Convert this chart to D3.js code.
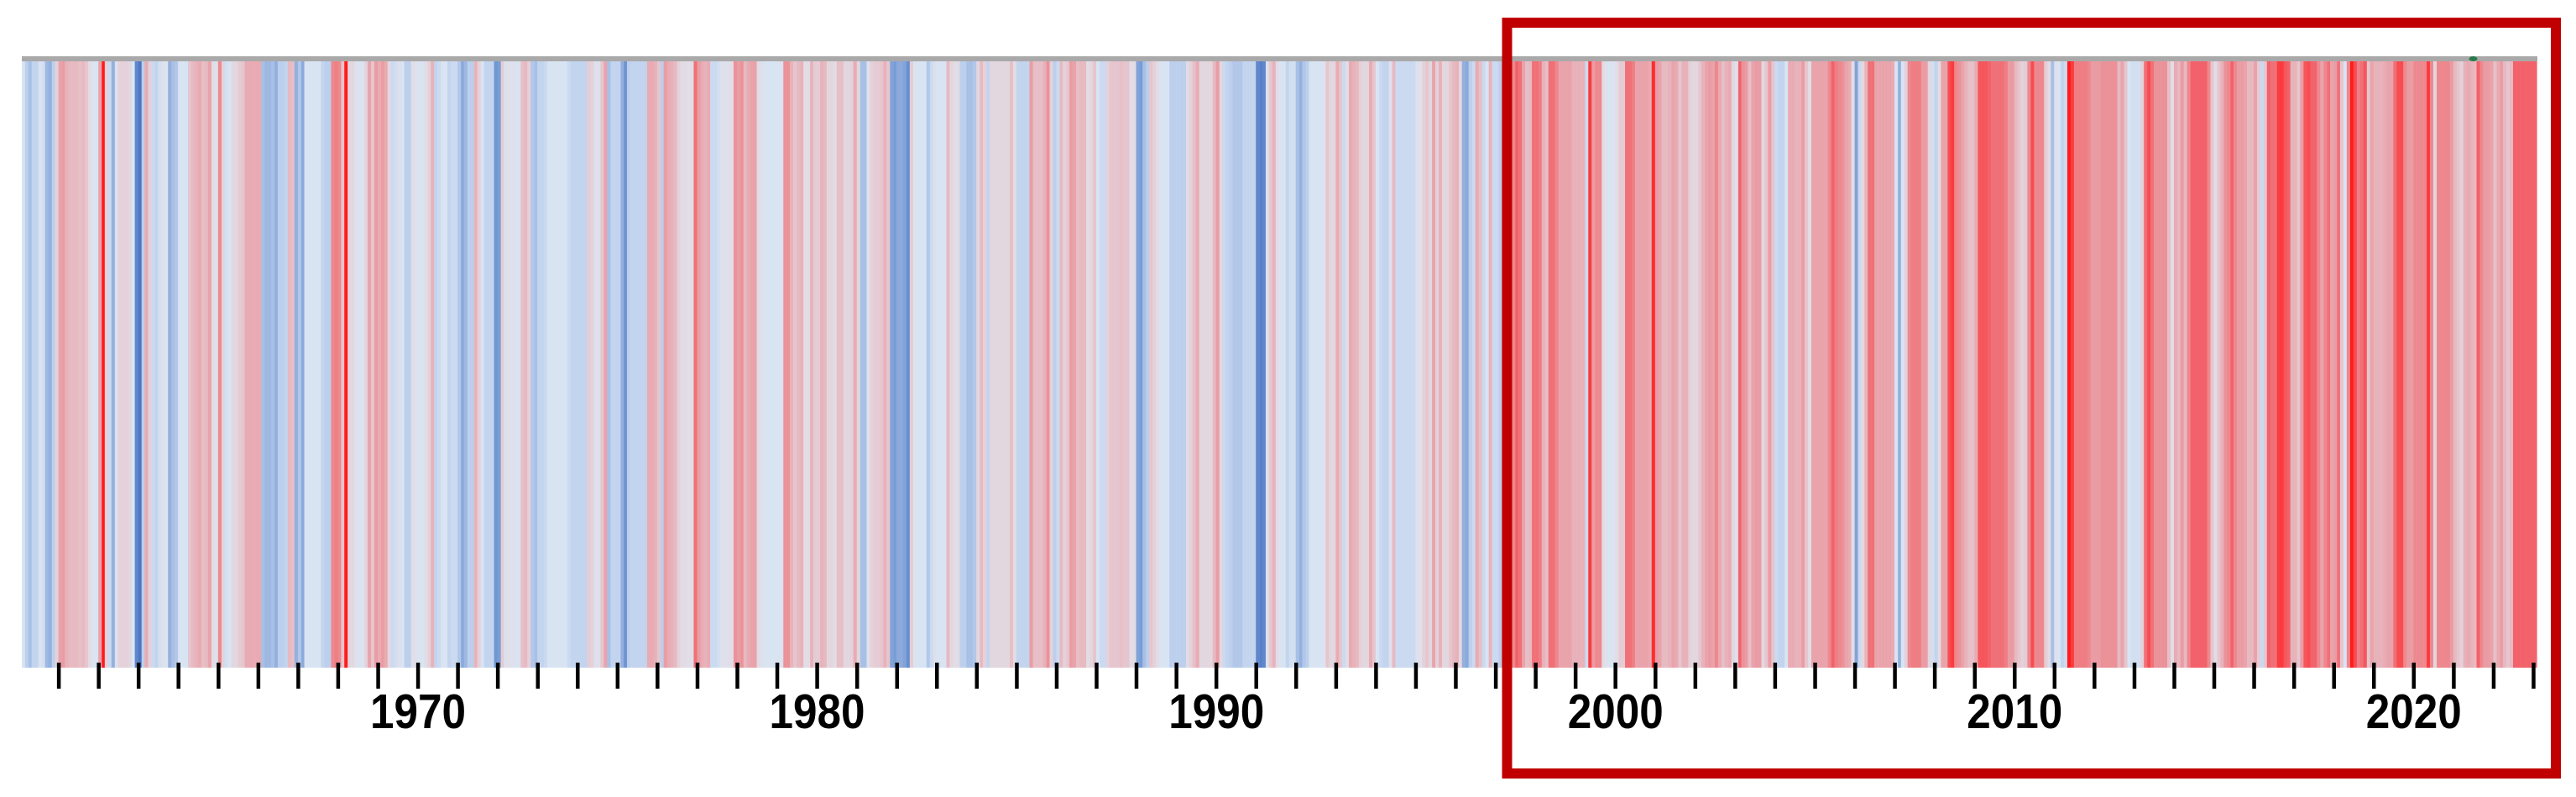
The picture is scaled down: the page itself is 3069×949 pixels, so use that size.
<!DOCTYPE html>
<html><head><meta charset="utf-8">
<script src="https://cdn.jsdelivr.net/npm/d3@7"></script>
<style>html,body{margin:0;padding:0;background:#fff;} svg{display:block}</style>
</head><body>
<svg id="chart" width="3069" height="949"></svg>
<script>
// Monthly anomaly index (relative, -1 = coldest, +1 = warmest), Feb 1960 .. Jan 2023
const firstMonth = new Date(1960, 1, 1);
const months1960to1970 = [-0.2,-0.4,-0.5,-0.35,-0.35,-0.15,-0.25,-0.55,-0.6,-0.4,
 0.1,0.45,0.5,0.35,0.3,0.3,0.3,0.25,0.3,0.2,
 0.0,-0.15,-0.2,0.45,1.0,0.1,-0.3,-0.6,-0.1,0.1,
 0.1,0.1,0.05,-0.2,-0.9,-1.0,-0.4,0.4,0.1,-0.3,
 -0.35,-0.25,-0.1,-0.15,-0.6,-0.5,-0.45,-0.2,-0.2,-0.2,
 0.2,0.3,0.35,0.4,0.25,0.3,0.45,0.0,-0.1,0.6,
 0.1,-0.25,-0.2,0.05,0.05,0.15,0.2,0.4,0.4,0.4,
 0.4,0.4,-0.5,-0.55,-0.55,-0.5,-0.6,-0.4,-0.4,-0.35,
 0.3,0.25,-0.6,-0.45,-0.65,-0.2,-0.2,-0.2,-0.2,-0.2,
 -0.35,-0.4,-0.4,0.6,0.65,0.6,0.2,1.0,0.05,0.05,
 -0.1,-0.15,-0.15,0.1,0.45,0.2,0.5,0.4,0.5,0.4,
 0.05,-0.3,-0.25,-0.1,-0.2,-0.4,-0.4,-0.05,-0.1,-0.2,
 -0.2,0.0,0.1,0.35,-0.35,-0.3];
const months1970to1981 = [-0.2,-0.2,-0.35,-0.3,-0.3,-0.45,-0.65,-0.55,-0.4,-0.4,
 0.35,0.1,-0.2,-0.35,-0.35,-0.35,-0.8,-0.75,0.15,-0.1,
 -0.1,-0.1,-0.15,-0.15,0.25,0.3,0.1,-0.45,-0.5,-0.35,
 -0.35,-0.3,-0.2,-0.2,-0.2,-0.2,-0.2,-0.2,-0.3,-0.35,
 -0.35,-0.35,-0.35,-0.35,0.15,0.1,-0.1,-0.1,0.2,0.45,
 -0.5,-0.35,-0.35,-0.35,-0.6,-0.8,-0.4,-0.35,-0.35,-0.35,
 -0.35,-0.35,0.4,0.4,0.35,0.2,-0.4,0.5,0.4,0.35,
 0.3,0.1,0.0,0.0,-0.05,0.0,0.7,0.5,0.4,0.35,
 0.4,-0.3,-0.3,-0.25,-0.1,-0.1,-0.05,0.0,0.55,0.5,
 0.55,0.3,0.4,0.45,0.45,0.0,-0.1,-0.2,-0.2,-0.2,
 -0.2,-0.2,-0.15,0.55,0.55,0.35,0.2,0.3,0.35,0.0,
 0.0,0.35,0.15,0.15,0.35,0.3,0.05,0.05,0.0,0.25,
 0.25,0.05,0.05,0.1,0.4,0.05];
const months1981to1991 = [-0.5,-0.5,-0.1,0.1,0.15,0.15,0.2,0.35,0.2,-0.7,
 -0.75,-0.65,-0.65,-0.7,-0.85,0.15,-0.15,-0.2,-0.2,-0.2,
 -0.45,-0.3,-0.1,-0.2,-0.2,-0.2,0.3,0.05,0.0,0.0,
 -0.4,-0.4,-0.5,-0.5,-0.45,0.05,0.3,0.1,-0.35,0.05,
 0.05,0.05,0.05,0.05,0.05,0.25,0.0,-0.35,-0.35,-0.35,
 -0.35,0.5,0.25,0.25,0.25,0.35,0.55,0.1,-0.4,-0.3,
 0.3,0.1,0.2,0.5,0.45,0.25,0.3,0.3,0.0,0.05,
 0.2,-0.2,-0.3,-0.3,0.1,0.2,0.2,0.2,0.25,0.2,
 0.2,0.0,0.0,-0.7,-0.75,-0.5,-0.4,0.2,0.1,0.0,
 -0.2,-0.2,-0.2,-0.4,-0.4,-0.4,-0.4,-0.4,0.0,0.1,
 0.25,0.4,0.05,0.05,0.05,0.05,0.3,0.5,0.05,-0.3,
 -0.35,-0.4,-0.45,-0.45,-0.45,-0.35,-0.35,-0.35,-0.35,-0.9,
 -0.95,-0.9,-0.1,0.2,0.35,0.0];
const months1991to2002 = [-0.2,-0.2,-0.35,-0.25,-0.25,-0.5,-0.6,-0.45,-0.4,-0.2,
 -0.2,-0.2,-0.2,-0.15,0.2,0.05,0.05,0.4,0.2,-0.3,
 0.0,0.4,0.35,0.3,0.1,0.05,0.05,0.4,0.2,-0.2,
 -0.3,-0.35,-0.35,-0.1,0.3,-0.3,-0.3,-0.3,-0.3,-0.3,
 -0.3,-0.1,-0.1,0.1,0.2,0.05,0.45,0.1,0.35,0.05,
 0.05,0.2,0.3,0.35,0.05,-0.6,-0.65,-0.4,-0.3,0.4,
 0.25,-0.3,-0.2,0.35,-0.3,-0.3,-0.4,0.6,0.6,0.5,
 0.6,0.75,0.7,0.45,0.25,0.3,0.7,0.7,0.65,0.35,
 0.25,0.7,0.7,0.6,0.45,0.45,0.45,0.45,0.35,0.35,
 0.35,0.35,-0.3,0.9,0.5,0.6,0.6,0.0,-0.1,-0.2,
 -0.15,0.0,0.15,0.15,0.7,0.7,0.65,0.45,0.45,0.45,
 0.45,0.4,0.95,0.5,0.45,0.3,0.3,0.35,0.45,0.4,
 0.2,0.35,0.35,0.1,0.05,0.05];
const months2002to2012 = [0.2,0.35,0.45,0.5,0.45,0.6,0.4,0.25,0.35,0.4,
 0.05,-0.1,0.75,0.55,0.5,0.25,0.45,0.5,0.5,0.05,
 0.2,0.5,0.2,-0.3,-0.35,-0.35,-0.2,0.4,0.4,0.35,
 0.35,0.5,0.2,0.0,0.45,0.45,0.45,0.45,0.45,0.6,
 0.75,0.65,0.6,0.55,0.45,0.4,0.0,-0.7,-0.3,0.05,
 0.35,0.7,0.7,0.45,0.45,0.45,0.45,0.45,0.4,-0.2,
 -0.6,-0.2,0.1,0.6,0.65,0.65,0.65,0.5,0.5,0.05,
 -0.25,-0.35,0.0,0.45,0.45,0.85,0.9,0.6,0.55,0.45,
 0.35,0.25,0.25,0.4,0.8,0.8,0.8,0.75,0.7,0.7,
 0.7,0.7,0.65,0.5,0.5,0.3,0.2,0.1,0.15,0.6,
 0.85,0.6,0.6,0.6,0.15,0.0,-0.5,-0.1,-0.2,-0.35,
 -0.3,1.0,0.9,0.65,0.65,0.65,0.65,0.6,0.5,0.5,
 0.5,0.55,0.55,0.55,0.55,0.55];
const months2012to2023 = [0.3,0.45,0.2,-0.2,-0.25,-0.25,-0.25,0.1,0.7,0.85,
 0.7,0.55,0.55,0.55,0.55,0.25,0.0,0.4,0.3,0.5,
 0.3,0.6,0.75,0.75,0.75,0.75,0.75,0.6,0.2,0.0,
 0.2,0.35,0.55,0.6,0.75,0.6,0.5,0.5,0.45,0.3,
 0.3,0.45,0.15,-0.3,0.2,0.75,0.7,0.7,0.9,0.9,
 0.8,0.75,0.35,0.35,0.2,0.5,0.8,0.85,0.75,0.75,
 0.6,0.45,0.6,0.7,0.45,0.5,0.7,0.2,-0.2,0.6,
 1.0,0.85,0.65,0.7,0.8,0.2,0.45,0.35,0.35,0.35,
 0.4,0.45,0.45,0.7,0.85,0.85,0.6,0.5,0.5,0.6,
 0.6,0.6,0.6,0.9,0.6,0.05,0.6,0.6,0.6,0.6,
 0.5,0.3,0.2,0.1,0.35,0.4,0.35,0.3,0.75,0.6,
 0.5,0.5,0.45,0.25,0.4,0.5,0.3,0.2,0.3,0.75,
 0.75,0.75,0.75,0.75,0.75,0.75];

const tickYears = d3.range(1961, 2024);
const labelYears = [1970, 1980, 1990, 2000, 2010, 2020];
const colorDomain = [-1.0, -0.8, -0.6, -0.4, -0.2, 0.0, 0.2, 0.35, 0.5, 0.65, 0.75, 0.85, 1.0];
const colorRange = ["#4f78c4","#7096d2","#94b0de","#bccfec","#d9e4f3","#e2dce5","#e6c6ce","#e8b2ba","#ea9ca4","#ee7e84","#f2626a","#f74c50","#ff1c1c"];

const values = [].concat(months1960to1970, months1970to1981, months1981to1991,
  months1991to2002, months2002to2012, months2012to2023);
const data = values.map((v, i) => ({date: d3.timeMonth.offset(firstMonth, i), value: v}));
const lastEnd = d3.timeMonth.offset(firstMonth, values.length);

const svg = d3.select("#chart");
svg.append("rect").attr("width", 3069).attr("height", 949).attr("fill", "#fff");

const x = d3.scaleTime().domain([firstMonth, lastEnd]).range([26, 3022]);
const color = d3.scaleLinear().domain(colorDomain).range(colorRange).clamp(true);

const stripeTop = 73, stripeBottom = 795;
svg.append("g").selectAll("rect").data(data).join("rect")
  .attr("x", d => x(d.date))
  .attr("width", d => x(d3.timeMonth.offset(d.date, 1)) - x(d.date) + 0.6)
  .attr("y", stripeTop).attr("height", stripeBottom - stripeTop)
  .attr("fill", d => color(d.value));

// top grey line
svg.append("rect").attr("x", x(firstMonth)).attr("y", 67)
  .attr("width", x(lastEnd) - x(firstMonth) + 1).attr("height", 6).attr("fill", "#a9a9a9");
svg.append("ellipse").attr("cx", x(new Date(2021, 6, 1))).attr("cy", 70)
  .attr("rx", 5).attr("ry", 3).attr("fill", "#2b7a4b");

// axis
const axis = d3.axisBottom(x)
  .tickValues(tickYears.map(y => new Date(y, 0, 1)))
  .tickSize(31)
  .tickFormat(d => labelYears.includes(d.getFullYear()) ? String(d.getFullYear()) : "");
const gAx = svg.append("g").attr("transform", "translate(0,789)").call(axis);
gAx.select(".domain").remove();
gAx.selectAll(".tick line").attr("stroke", "#000").attr("stroke-width", 4.5);
gAx.selectAll(".tick text")
  .attr("y", 78).attr("dy", 0)
  .attr("fill", "#000")
  .style("font-family", "'Liberation Sans', Arial, sans-serif")
  .style("font-weight", "bold")
  .style("font-size", "57px")
  .each(function(d) {
    if (labelYears.includes(d.getFullYear())) {
      d3.select(this).attr("textLength", 114).attr("lengthAdjust", "spacingAndGlyphs");
    }
  });

// highlight box
svg.append("rect").attr("x", 1795.5).attr("y", 27).attr("width", 1249.5).attr("height", 894)
  .attr("fill", "none").attr("stroke", "#c00000").attr("stroke-width", 12);
</script>
</body></html>
